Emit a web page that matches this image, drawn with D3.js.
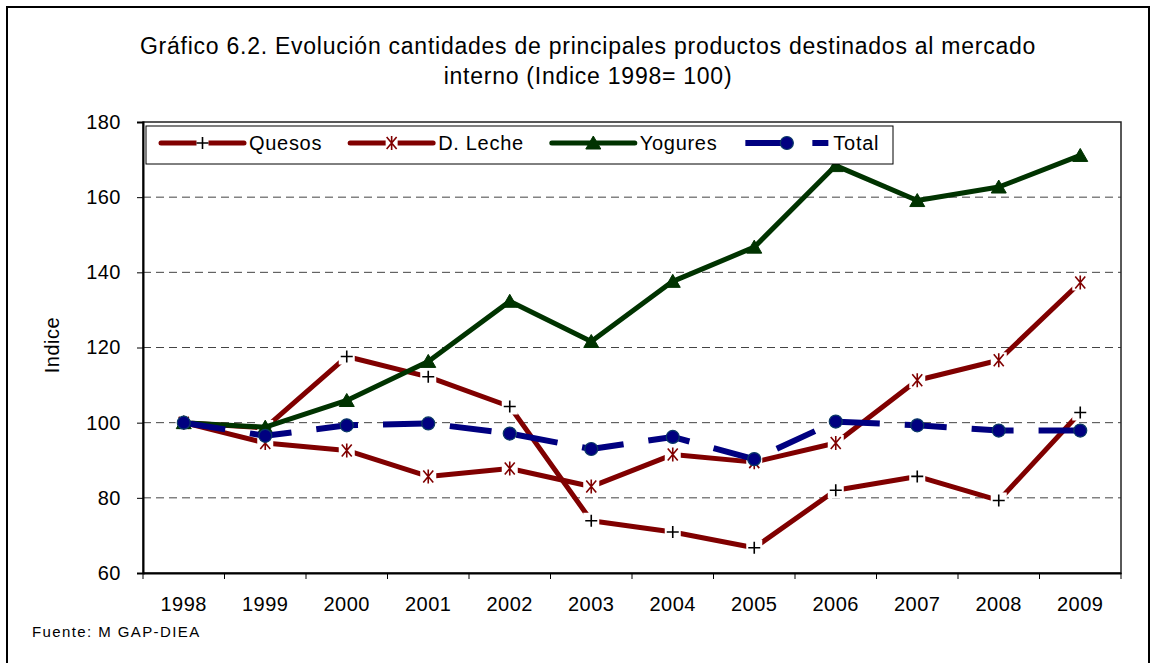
<!DOCTYPE html>
<html>
<head>
<meta charset="utf-8">
<script src="https://cdn.jsdelivr.net/npm/d3@7"></script>
<style>
  body { margin: 0; background: #fff; }
  svg { font-family: "Liberation Sans", Arial, sans-serif; }
</style>
</head>
<body>
<div id="chart"></div>
<script>
// data
var years = ["1998","1999","2000","2001","2002","2003","2004","2005","2006","2007","2008","2009"];
var quesos  = [100, 98.6, 117.6, 112.2, 104.3, 73.9, 70.9, 66.7, 82.0, 85.7, 79.3, 102.7];
var dLeche  = [100, 94.6, 92.6, 85.7, 87.8, 83.0, 91.5, 89.5, 94.6, 111.3, 116.6, 137.3];
var yogures = [100, 98.8, 105.9, 116.3, 132.3, 121.6, 137.6, 146.7, 168.4, 159.1, 162.7, 171.1];
var total   = [100, 96.5, 99.3, 99.8, 97.1, 93.0, 96.2, 90.3, 100.3, 99.3, 97.9, 97.9];
var yTicks  = [60, 80, 100, 120, 140, 160, 180];

var titleLines = ["Gráfico 6.2. Evolución cantidades de principales productos destinados al mercado",
                  "interno (Indice 1998= 100)"];

var series = [
  {name:"Quesos",   values:quesos,  color:"#800000", width:5, dash:null,    marker:"plus"},
  {name:"D. Leche", values:dLeche,  color:"#800000", width:5, dash:null,    marker:"star"},
  {name:"Yogures",  values:yogures, color:"#003300", width:5, dash:null,    marker:"tri"},
  {name:"Total",    values:total,   color:"#000080", width:6, dash:"42,25", marker:"dot"}
];

var W = 1157, H = 663;
var plot = {left:143, right:1121, top:122, bottom:573};

var svg = d3.select("#chart").append("svg").attr("width",W).attr("height",H);
svg.append("rect").attr("width",W).attr("height",H).attr("fill","#fff");
// outer frame
svg.append("rect").attr("x",7).attr("y",7).attr("width",1142).attr("height",720)
  .attr("fill","none").attr("stroke","#000").attr("stroke-width",2);

// title
svg.append("g").selectAll("text").data(titleLines).enter().append("text")
  .attr("x",588).attr("y",function(d,i){ return 54 + i*30; })
  .attr("text-anchor","middle").attr("font-size","23px").attr("letter-spacing","0.75px")
  .attr("fill","#000").text(function(d){ return d; });

var x = d3.scaleBand().domain(years).range([plot.left, plot.right]).padding(0);
var y = d3.scaleLinear().domain([60,180]).range([plot.bottom, plot.top]);
var cx = function(i){ return x(years[i]) + x.bandwidth()/2; };

// gridlines
svg.append("g").selectAll("line").data(yTicks.filter(function(t){ return t>60 && t<180; })).enter()
  .append("line")
  .attr("x1",plot.left).attr("x2",plot.right)
  .attr("y1",function(d){ return y(d); }).attr("y2",function(d){ return y(d); })
  .attr("stroke","#444").attr("stroke-width",1).attr("stroke-dasharray","8,5");

// plot frame (top/right)
svg.append("rect").attr("x",plot.left).attr("y",plot.top)
  .attr("width",plot.right-plot.left).attr("height",plot.bottom-plot.top)
  .attr("fill","none").attr("stroke","#222").attr("stroke-width",1.5);

// y axis
var yAxis = svg.append("g").attr("transform","translate("+plot.left+",0)")
  .call(d3.axisLeft(y).tickValues(yTicks).tickSize(6).tickPadding(16));
yAxis.select(".domain").attr("stroke","#000").attr("stroke-width",2);
yAxis.selectAll(".tick line").attr("stroke","#000");
yAxis.selectAll("text").attr("font-size","20px").attr("letter-spacing","0.5px")
  .attr("font-family","Liberation Sans, Arial, sans-serif").attr("fill","#000");

// x axis: labels at centers, ticks at category boundaries
var xAxis = svg.append("g").attr("transform","translate(0,"+plot.bottom+")")
  .call(d3.axisBottom(x).tickSize(0).tickPadding(24));
xAxis.select(".domain").attr("stroke","#000").attr("stroke-width",2);
xAxis.selectAll("text").attr("font-size","20px").attr("letter-spacing","0.5px")
  .attr("font-family","Liberation Sans, Arial, sans-serif").attr("fill","#000");
var bounds = years.map(function(d){ return x(d); }).concat([plot.right]);
svg.append("g").selectAll("line").data(bounds).enter().append("line")
  .attr("x1",function(d){ return d; }).attr("x2",function(d){ return d; })
  .attr("y1",plot.bottom).attr("y2",plot.bottom+6)
  .attr("stroke","#000").attr("stroke-width",1);

// y title
svg.append("text").attr("transform","translate(59,345) rotate(-90)")
  .attr("text-anchor","middle").attr("font-size","20px").attr("letter-spacing","0.5px")
  .text("Indice");

// footer
svg.append("text").attr("x",32).attr("y",637).attr("font-size","15px")
  .attr("letter-spacing","1.4px").text("Fuente: M GAP-DIEA");

function drawMarker(g, type, color){
  if(type=="plus"){
    g.append("rect").attr("x",-8).attr("y",-8).attr("width",16).attr("height",16).attr("fill","#fff");
    g.append("path").attr("d","M-6,0H6M0,-6V6").attr("stroke","#000").attr("stroke-width",1.6);
  } else if(type=="star"){
    g.append("rect").attr("x",-8).attr("y",-8).attr("width",16).attr("height",16).attr("fill","#fff");
    g.append("path").attr("d","M-5,-6L5,6M5,-6L-5,6M0,-7V7").attr("stroke",color).attr("stroke-width",1.6);
  } else if(type=="tri"){
    g.append("path").attr("d","M0,-7L7.5,6H-7.5Z").attr("fill",color).attr("stroke",color).attr("stroke-width",1);
  } else {
    g.append("circle").attr("r",6.5).attr("fill","#000080").attr("stroke","#0b3a66").attr("stroke-width",1.2);
  }
}

var line = d3.line().x(function(d,i){ return cx(i); }).y(function(d){ return y(d); });

series.forEach(function(s){
  var g = svg.append("g");
  g.append("path").datum(s.values).attr("d",line)
    .attr("fill","none").attr("stroke",s.color).attr("stroke-width",s.width)
    .attr("stroke-linejoin","round")
    .attr("stroke-linecap", s.dash ? "butt" : "round")
    .attr("stroke-dasharray", s.dash);
  s.values.forEach(function(v,i){
    drawMarker(g.append("g").attr("transform","translate("+cx(i)+","+y(v)+")"), s.marker, s.color);
  });
});

// legend
var leg = svg.append("g");
leg.append("rect").attr("x",146).attr("y",126).attr("width",747).attr("height",38)
  .attr("fill","#fff").attr("stroke","#000").attr("stroke-width",1);
var lx = 161, ly = 143;
series.forEach(function(s){
  var g = leg.append("g");
  g.append("line").attr("x1",lx).attr("x2",lx+83).attr("y1",ly).attr("y2",ly)
    .attr("stroke",s.color).attr("stroke-width",s.width)
    .attr("stroke-linecap", s.dash ? "butt" : "round")
    .attr("stroke-dasharray", s.dash);
  if(s.marker=="plus" || s.marker=="star"){
    var m = g.append("g").attr("transform","translate("+(lx+41.5)+","+ly+")");
    m.append("rect").attr("x",-6).attr("y",-8).attr("width",12).attr("height",16).attr("fill","#fff");
    m.append("path").attr("d", s.marker=="plus" ? "M-6,0H6M0,-6V6" : "M-5,-6L5,6M5,-6L-5,6M0,-7V7")
      .attr("stroke", s.marker=="plus" ? "#000" : s.color).attr("stroke-width",1.6);
  } else {
    drawMarker(g.append("g").attr("transform","translate("+(lx+41.5)+","+ly+")"), s.marker, s.color);
  }
  var t = g.append("text").attr("x",lx+88).attr("y",ly+7).attr("font-size","20px")
    .attr("letter-spacing","0.7px").text(s.name);
  lx = lx + 88 + t.node().getComputedTextLength() + 28;
});
</script>
</body>
</html>
